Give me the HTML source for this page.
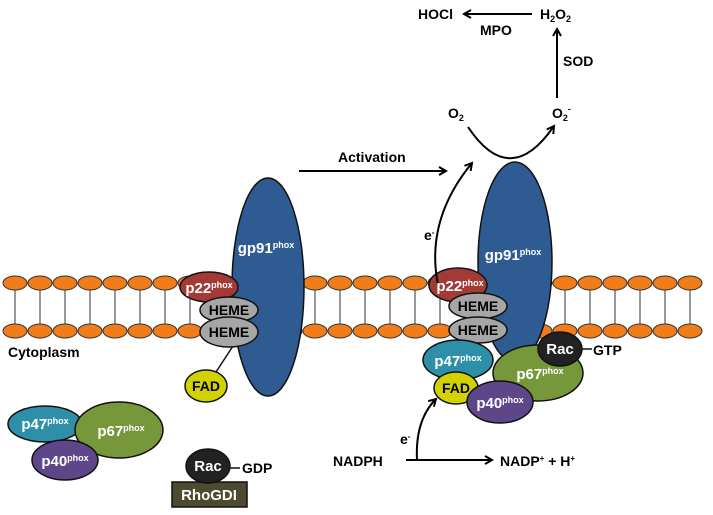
<!DOCTYPE html>
<html><head><style>body{margin:0;background:#fff}svg{display:block}text{font-family:"Liberation Sans",sans-serif;font-weight:bold}</style></head><body>
<svg width="713" height="515" viewBox="0 0 713 515" xmlns="http://www.w3.org/2000/svg">
<defs><marker id="ah" markerWidth="10" markerHeight="10" refX="8" refY="5" orient="auto" markerUnits="userSpaceOnUse"><path d="M1,1 L8,5 L1,9" fill="none" stroke="#000" stroke-width="2"/></marker>
<g id="col"><line x1="0" y1="283" x2="0" y2="331" stroke="#333" stroke-width="1"/><ellipse cx="0" cy="283" rx="12" ry="7" fill="#f07d1a" stroke="#333" stroke-width="1"/><ellipse cx="0" cy="331" rx="12" ry="7" fill="#f07d1a" stroke="#333" stroke-width="1"/></g>
</defs>
<use href="#col" x="15"/><use href="#col" x="40"/><use href="#col" x="65"/><use href="#col" x="90"/><use href="#col" x="115"/><use href="#col" x="140"/><use href="#col" x="165"/><use href="#col" x="190"/><use href="#col" x="215"/><use href="#col" x="240"/><use href="#col" x="265"/><use href="#col" x="290"/><use href="#col" x="315"/><use href="#col" x="340"/><use href="#col" x="365"/><use href="#col" x="390"/><use href="#col" x="415"/><use href="#col" x="440"/><use href="#col" x="465"/><use href="#col" x="490"/><use href="#col" x="515"/><use href="#col" x="540"/><use href="#col" x="565"/><use href="#col" x="590"/><use href="#col" x="615"/><use href="#col" x="640"/><use href="#col" x="665"/><use href="#col" x="690"/>
<g stroke="#111" stroke-width="1.5">
<ellipse cx="268" cy="287" rx="36" ry="109" fill="#2f5b93"/>
<ellipse cx="209" cy="287" rx="29" ry="15" fill="#a33a36"/>
<line x1="233" y1="346" x2="216" y2="372"/>
<ellipse cx="229" cy="310" rx="29" ry="13" fill="#a6a6a6"/>
<ellipse cx="229" cy="332" rx="29" ry="15" fill="#a6a6a6"/>
<ellipse cx="206" cy="386" rx="21" ry="16" fill="#d2d200"/>
<ellipse cx="45" cy="424" rx="37" ry="18" fill="#2e90a8"/>
<ellipse cx="119" cy="430" rx="44" ry="28" fill="#76973a"/>
<ellipse cx="65" cy="460" rx="33" ry="20" fill="#5d4789"/>
<rect x="172" y="482" width="75" height="25" fill="#4d4a2f"/>
<line x1="230" y1="468" x2="240" y2="468"/>
<ellipse cx="208" cy="466" rx="22" ry="17" fill="#222"/>
<ellipse cx="515" cy="262" rx="37" ry="100" fill="#2f5b93"/>
<ellipse cx="458" cy="285" rx="29" ry="17" fill="#a33a36"/>
<ellipse cx="478" cy="306" rx="29" ry="13" fill="#a6a6a6"/>
<ellipse cx="478" cy="330" rx="29" ry="13" fill="#a6a6a6"/>
<ellipse cx="458" cy="360" rx="35" ry="20" fill="#2e90a8"/>
<ellipse cx="538" cy="373" rx="45" ry="28" fill="#76973a"/>
<line x1="582" y1="349" x2="592" y2="349"/>
<ellipse cx="560" cy="349" rx="22" ry="17" fill="#222"/>
<ellipse cx="456" cy="388" rx="22" ry="16" fill="#d2d200"/>
<ellipse cx="500" cy="402" rx="33" ry="21" fill="#5d4789"/>
</g>
<g fill="none" stroke="#000" stroke-width="2">
<line x1="532" y1="14" x2="464" y2="14" marker-end="url(#ah)"/>
<line x1="557" y1="98" x2="557" y2="29" marker-end="url(#ah)"/>
<path d="M468,127 Q510,190 554,126" marker-end="url(#ah)"/>
<line x1="299" y1="171" x2="446" y2="171" marker-end="url(#ah)"/>
<path d="M438,285 Q425,220 472,163" marker-end="url(#ah)"/>
<line x1="406" y1="460" x2="492" y2="460" marker-end="url(#ah)"/>
<path d="M417,460 Q415,420 436,399" marker-end="url(#ah)"/>
</g>
<g font-size="14" fill="#000">
<text x="418" y="19">HOCl</text>
<text x="480" y="35">MPO</text>
<text x="540" y="19">H<tspan font-size="9" dy="3">2</tspan><tspan dy="-3">O</tspan><tspan font-size="9" dy="3">2</tspan></text>
<text x="563" y="66">SOD</text>
<text x="448" y="118">O<tspan font-size="9" dy="3">2</tspan></text>
<text x="552" y="118">O<tspan font-size="9" dy="3">2</tspan><tspan font-size="9" dy="-9">-</tspan></text>
<text x="338" y="162">Activation</text>
<text x="424" y="240">e<tspan font-size="8" dy="-5">-</tspan></text>
<text x="400" y="444">e<tspan font-size="8" dy="-5">-</tspan></text>
<text x="8" y="357">Cytoplasm</text>
<text x="593" y="355">GTP</text>
<text x="242" y="473">GDP</text>
<text x="333" y="466">NADPH</text>
<text x="500" y="466">NADP<tspan font-size="8" dy="-5">+</tspan><tspan dy="5"> + H</tspan><tspan font-size="8" dy="-5">+</tspan></text>
</g>
<g font-size="14" fill="#000" text-anchor="middle">
<text x="229" y="315">HEME</text><text x="229" y="337">HEME</text>
<text x="478" y="311">HEME</text><text x="478" y="335">HEME</text>
<text x="206" y="391">FAD</text><text x="456" y="393">FAD</text>
</g>
<g font-size="15" fill="#fff" text-anchor="middle">
<text x="266" y="253">gp91<tspan font-size="9" dy="-5">phox</tspan></text>
<text x="513" y="260">gp91<tspan font-size="9" dy="-5">phox</tspan></text>
<text x="209" y="293">p22<tspan font-size="9" dy="-5">phox</tspan></text>
<text x="460" y="291">p22<tspan font-size="9" dy="-5">phox</tspan></text>
<text x="45" y="429">p47<tspan font-size="9" dy="-5">phox</tspan></text>
<text x="121" y="436">p67<tspan font-size="9" dy="-5">phox</tspan></text>
<text x="65" y="466">p40<tspan font-size="9" dy="-5">phox</tspan></text>
<text x="458" y="366">p47<tspan font-size="9" dy="-5">phox</tspan></text>
<text x="540" y="379">p67<tspan font-size="9" dy="-5">phox</tspan></text>
<text x="500" y="408">p40<tspan font-size="9" dy="-5">phox</tspan></text>
<text x="208" y="471">Rac</text>
<text x="560" y="354">Rac</text>
<text x="209" y="500">RhoGDI</text>
</g>
</svg>
</body></html>
